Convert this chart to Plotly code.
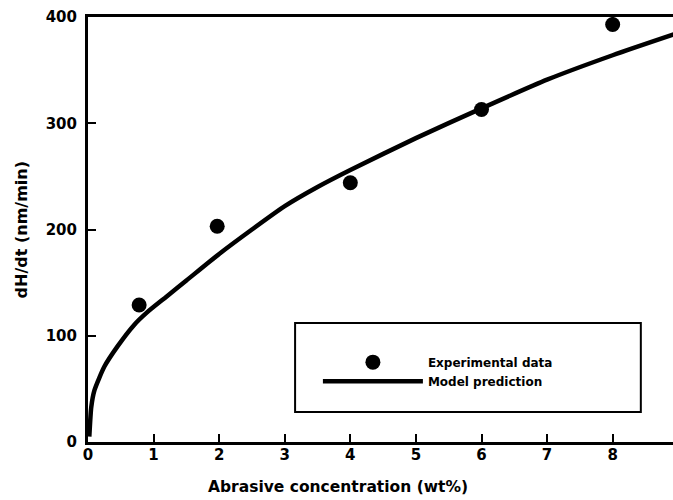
import plotly.graph_objects as go

exp_x = [0.78, 1.97, 4.0, 6.0, 8.0]
exp_y = [129, 203, 244, 313, 393]

# Model prediction curve
model_x = [0.02, 0.05, 0.1, 0.25, 0.45, 0.7, 0.9, 1.2, 1.5, 2.0, 2.5, 3.0, 3.5, 4.0, 5.0, 6.0, 7.0, 8.0, 9.0]
model_y = [5, 33, 49, 71, 90, 110, 122, 137, 152, 177, 200, 222, 240, 256, 286, 314, 341, 364, 385]

x_ticks = [0, 1, 2, 3, 4, 5, 6, 7, 8, 9]
y_ticks = [0, 100, 200, 300, 400]

FONT = "DejaVu Sans"

fig = go.Figure()
fig.add_trace(go.Scatter(
    x=exp_x, y=exp_y, mode="markers", name="Experimental data",
    marker=dict(color="black", size=15, symbol="circle"),
))
fig.add_trace(go.Scatter(
    x=model_x, y=model_y, mode="lines", name="Model prediction",
    line=dict(color="black", width=4.5, shape="spline", smoothing=0.6),
))

tickfont = dict(family=FONT, size=15, color="black", weight="bold")

fig.update_layout(
    width=673, height=500,
    margin=dict(l=88, r=0, t=17, b=58),
    paper_bgcolor="white", plot_bgcolor="white",
    showlegend=True,
    legend=dict(
        x=0.393, y=0.222, xanchor="left", yanchor="top",
        bgcolor="rgba(0,0,0,0)", borderwidth=0,
        font=dict(family=FONT, size=12, color="black", weight="bold"),
        itemwidth=100, tracegroupgap=0,
    ),
    xaxis=dict(
        range=[0, 8.92], tickvals=x_ticks, ticktext=[str(v) for v in x_ticks],
        showgrid=False, zeroline=False,
        showline=True, linecolor="black", linewidth=3, mirror=True,
        ticks="inside", ticklen=8, tickwidth=2, tickcolor="black",
        tickfont=tickfont, ticklabelstandoff=-3,
    ),
    yaxis=dict(
        range=[0, 400], tickvals=y_ticks, ticktext=[str(v) for v in y_ticks],
        showgrid=False, zeroline=False,
        showline=True, linecolor="black", linewidth=3,
        ticks="inside", ticklen=8, tickwidth=2, tickcolor="black",
        tickfont=tickfont, ticklabelstandoff=5,
    ),
    shapes=[dict(type="rect", xref="paper", yref="paper",
                 x0=0.354, x1=0.945, y0=0.0706, y1=0.28,
                 line=dict(color="black", width=2), fillcolor="rgba(0,0,0,0)")],
    annotations=[
        dict(text="Abrasive concentration (wt%)", xref="paper", yref="paper",
             x=0.427, y=-0.105, xanchor="center", yanchor="middle", showarrow=False,
             font=dict(family=FONT, size=15.5, color="black", weight="bold")),
        dict(text="dH/dt (nm/min)", xref="paper", yref="paper",
             x=-0.113, y=0.50, xanchor="center", yanchor="middle", showarrow=False,
             textangle=-90,
             font=dict(family=FONT, size=16, color="black", weight="bold")),
    ],
)

fig.write_html("out.html")
